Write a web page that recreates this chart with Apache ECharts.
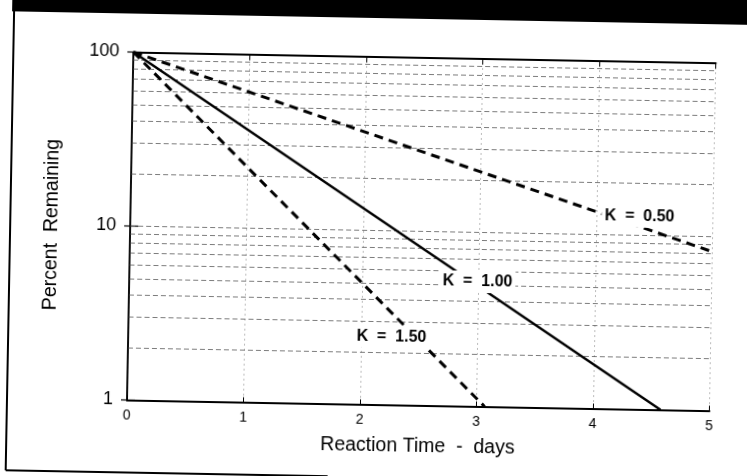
<!DOCTYPE html>
<html><head><meta charset="utf-8">
<script src="https://cdn.jsdelivr.net/npm/echarts@6/dist/echarts.min.js"></script>
<style>
html,body{margin:0;padding:0;background:#fff;overflow:hidden;width:747px;height:476px;}
#chart{position:absolute;left:-20px;top:-20px;width:787px;height:516px;transform:rotate(1.05deg);}
</style></head><body><div id="chart"></div>
<script>
// ---- data ----
const xTickValues = [0, 1, 2, 3, 4, 5];
const yTickLabels = ['1', '10', '100'];
const gridValues = [2, 3, 4, 5, 6, 7, 8, 9, 10, 20, 30, 40, 50, 60, 70, 80, 90];
const seriesNames = ['K = 0.50', 'K = 1.00', 'K = 1.50'];
const labelTexts = ['K  =  0.50', 'K  =  1.00', 'K  =  1.50'];
const k050 = [[0, 100], [5, 8.2]];
const k100 = [[0, 100], [4.58, 1]];
const k150 = [[0, 100], [3.07, 1]];
const labelAnchors = [[4.37, 12.8], [2.99, 5.2], [2.26, 2.45]];

const FONT = 'Liberation Sans, Arial, Helvetica, sans-serif';
const chart = echarts.init(document.getElementById('chart'), null, {renderer: 'canvas'});

function labelPoint(i) {
  return {
    z: 10,
    symbol: 'circle',
    symbolSize: 0.1,
    itemStyle: {color: 'rgba(0,0,0,0)'},
    silent: true,
    label: {
      show: true, position: 'inside', formatter: labelTexts[i],
      color: '#000', fontSize: 16, fontWeight: 'bold', fontFamily: FONT,
      backgroundColor: '#fff', padding: [3, 3]
    },
    data: [{coord: labelAnchors[i]}]
  };
}

const dashed = {color: '#000', width: 3, type: [9, 6]};
const solid = {color: '#000', width: 2.5, type: 'solid'};

chart.setOption({
  animation: false,
  backgroundColor: '#fff',
  grid: {left: 150, top: 76.5, right: 54.5, bottom: 91.5, containLabel: false},
  xAxis: [{
    type: 'value', min: 0, max: 5, interval: 1, position: 'bottom',
    name: 'Reaction Time  -  days', nameLocation: 'middle', nameGap: 31,
    nameTextStyle: {color: '#000', fontSize: 19.5, fontFamily: FONT},
    axisLine: {show: true, lineStyle: {color: '#000', width: 2}},
    axisTick: {show: true, inside: true, length: 5, lineStyle: {color: '#000', width: 1}},
    axisLabel: {color: '#000', fontSize: 14, fontFamily: FONT, margin: 9,
      formatter: v => xTickValues.includes(v) ? String(v) : ''},
    splitLine: {show: true, lineStyle: {color: '#777', width: 1, type: [1, 4]}}
  }, {
    type: 'value', min: 0, max: 5, interval: 1, position: 'top',
    axisLine: {show: true, lineStyle: {color: '#000', width: 2}},
    axisTick: {show: true, inside: true, length: 6, lineStyle: {color: '#000', width: 1}},
    axisLabel: {show: false}, splitLine: {show: false}
  }],
  yAxis: [{
    type: 'log', logBase: 10, min: 1, max: 100, position: 'left',
    name: 'Percent  Remaining', nameLocation: 'middle', nameGap: 68,
    nameTextStyle: {color: '#000', fontSize: 19.5, fontFamily: FONT},
    axisLine: {show: true, lineStyle: {color: '#000', width: 1.5}},
    axisTick: {show: true, inside: false, length: 6, lineStyle: {color: '#000', width: 1.2}},
    axisLabel: {color: '#000', fontSize: 18, fontFamily: FONT, margin: 14,
      formatter: v => yTickLabels.includes(String(v)) ? String(v) : ''},
    splitLine: {show: false}
  }, {
    type: 'log', logBase: 10, min: 1, max: 100, position: 'right',
    axisLine: {show: true, lineStyle: {color: '#000', width: 1.5}},
    axisTick: {show: true, inside: false, length: 8, lineStyle: {color: '#000', width: 1.2}},
    axisLabel: {show: false}, splitLine: {show: false}
  }],
  graphic: [
    {type: 'rect', shape: {x: 28, y: 0, width: 770, height: 38}, style: {fill: '#000'}, z: 100},
    {type: 'line', shape: {x1: 30, y1: 38, x2: 30, y2: 497}, style: {stroke: '#000', lineWidth: 2}},
    {type: 'line', shape: {x1: 30, y1: 497, x2: 352, y2: 497}, style: {stroke: '#000', lineWidth: 2}}
  ],
  series: [
    {
      name: 'grid', type: 'line', data: [], z: 1, silent: true,
      markLine: {
        silent: true, symbol: ['none', 'none'], z: 1,
        label: {show: false},
        lineStyle: {color: '#444', width: 1, type: [5, 3], opacity: 0.7},
        data: gridValues.map(v => ({yAxis: v}))
      }
    },
    {name: seriesNames[0], type: 'line', data: k050, showSymbol: false, symbol: 'none',
      lineStyle: dashed, z: 3, markPoint: labelPoint(0)},
    {name: seriesNames[1], type: 'line', data: k100, showSymbol: false, symbol: 'none',
      lineStyle: solid, z: 3, markPoint: labelPoint(1)},
    {name: seriesNames[2], type: 'line', data: k150, showSymbol: false, symbol: 'none',
      lineStyle: dashed, z: 3, markPoint: labelPoint(2)}
  ]
});
</script></body></html>
